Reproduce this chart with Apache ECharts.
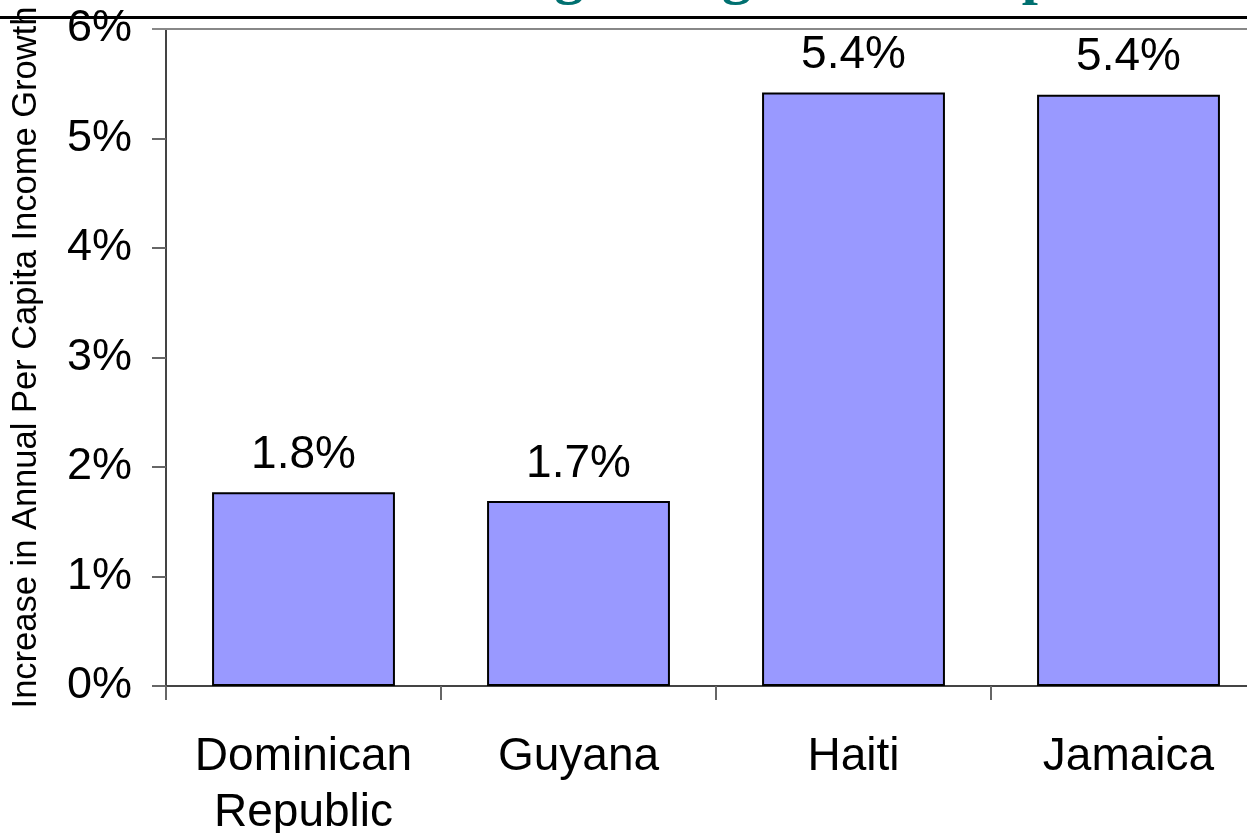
<!DOCTYPE html>
<html>
<head>
<meta charset="utf-8">
<script src="https://cdn.jsdelivr.net/npm/echarts@6/dist/echarts.min.js"></script>
<style>
html,body{margin:0;padding:0;background:#fff;}
#c{width:1247px;height:833px;}
</style>
</head>
<body>
<div id="c"></div>
<script>
const categories = ['Dominican\nRepublic', 'Guyana', 'Haiti', 'Jamaica'];
const growthValues = [1.77, 1.69, 5.42, 5.40];
const barLabels = ['1.8%', '1.7%', '5.4%', '5.4%'];
const yTicks = [0, 1, 2, 3, 4, 5, 6];
const yAxisTitle = 'Increase in Annual Per Capita Income Growth';
const headline = 'Remittances Leading to Higher Per Capita Growth';

const chart = echarts.init(document.getElementById('c'), null, {renderer: 'canvas'});
const font = '"Liberation Sans", Arial, sans-serif';
chart.setOption({
  animation: false,
  backgroundColor: '#ffffff',
  grid: {left: 166, top: 29, right: -19, bottom: 147, containLabel: false, outerBoundsMode: 'none'},
  xAxis: {
    type: 'category',
    data: categories,
    axisLine: {lineStyle: {color: '#444', width: 2}},
    axisTick: {show: true, inside: false, length: 14, alignWithLabel: false, lineStyle: {color: '#666', width: 2}},
    axisLabel: {fontFamily: font, fontSize: 46, color: '#000', margin: 43, lineHeight: 56, interval: 0},
    splitLine: {show: false}
  },
  yAxis: {
    type: 'value',
    min: yTicks[0],
    max: yTicks[yTicks.length - 1],
    interval: 1,
    name: yAxisTitle,
    nameLocation: 'middle',
    nameRotate: 90,
    nameGap: 122,
    nameTextStyle: {fontFamily: font, fontSize: 34.5, color: '#000'},
    axisLine: {show: true, lineStyle: {color: '#444', width: 2}},
    axisTick: {show: true, inside: false, length: 14, lineStyle: {color: '#666', width: 2}},
    axisLabel: {fontFamily: font, fontSize: 45, color: '#000', margin: 34, formatter: '{value}%'},
    splitLine: {show: false}
  },
  series: [{
    type: 'bar',
    data: growthValues,
    barCategoryGap: '33.5%',
    itemStyle: {color: '#9999ff', borderColor: '#000', borderWidth: 2},
    label: {
      show: true,
      position: 'top',
      distance: 14,
      fontFamily: font,
      fontSize: 46,
      color: '#000',
      formatter: p => barLabels[p.dataIndex]
    }
  }],
  graphic: [
    {
      type: 'text',
      left: 60,
      top: -51,
      silent: true,
      style: {
        text: headline,
        font: 'bold 58px "Liberation Serif", "Times New Roman", serif',
        fill: '#007070'
      },
      z: 1
    },
    {
      type: 'rect',
      shape: {x: 0, y: 16, width: 1247, height: 3},
      style: {fill: '#000'},
      silent: true,
      z: 2
    },
    {
      type: 'line',
      shape: {x1: 152, y1: 29, x2: 1247, y2: 29},
      style: {stroke: '#888', lineWidth: 2},
      silent: true,
      z: 2
    }
  ]
});
</script>
</body>
</html>
